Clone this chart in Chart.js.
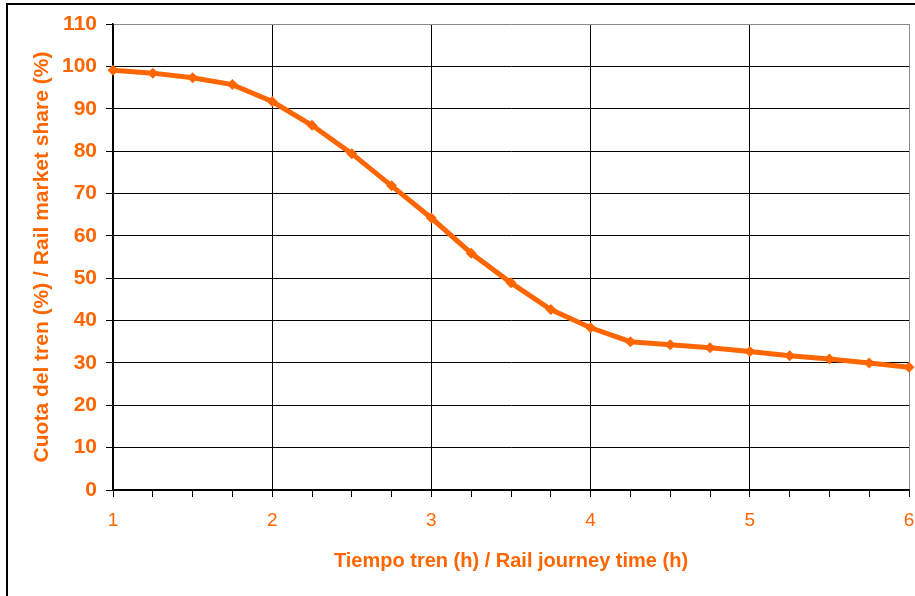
<!DOCTYPE html>
<html lang="es">
<head>
<meta charset="utf-8">
<title>Cuota del tren</title>
<script src="https://cdn.jsdelivr.net/npm/chart.js@4.4.1/dist/chart.umd.min.js"></script>
<style>
  body { margin: 0; background: #fff; }
  #contenedor { position: relative; width: 915px; height: 596px; overflow: hidden; background: #fff; }
  #myChart { position: absolute; left: 0; top: 0; }
  #marco {
    position: absolute; left: 6px; top: 3px; width: 1000px; height: 800px;
    border: 2px solid #000; pointer-events: none;
  }
</style>
</head>
<body>
<div id="contenedor">
  <canvas id="myChart" width="915" height="596"></canvas>
  <div id="marco"></div>
</div>
<script>
// tiempo de viaje en tren (h) y cuota de mercado (%)
const tiempos = [1, 1.25, 1.5, 1.75, 2, 2.25, 2.5, 2.75, 3, 3.25, 3.5, 3.75, 4, 4.25, 4.5, 4.75, 5, 5.25, 5.5, 5.75, 6];
const cuota = [99.1, 98.4, 97.3, 95.7, 91.7, 86.1, 79.4, 71.8, 64.2, 55.9, 48.9, 42.6, 38.3, 35.0, 34.3, 33.6, 32.7, 31.7, 30.9, 30.0, 29.0];
const ticksX = [1, 1.25, 1.5, 1.75, 2, 2.25, 2.5, 2.75, 3, 3.25, 3.5, 3.75, 4, 4.25, 4.5, 4.75, 5, 5.25, 5.5, 5.75, 6];
const ticksY = [0, 10, 20, 30, 40, 50, 60, 70, 80, 90, 100, 110];

const naranja = "#FF6600";
const fuente = "'Liberation Sans', Arial, sans-serif";

const data = {
  datasets: [
    {
      label: "Cuota del tren",
      data: tiempos.map((t, i) => ({ x: t, y: cuota[i] })),
      borderColor: naranja,
      backgroundColor: naranja,
      borderWidth: 5,
      pointStyle: "rectRot",
      pointRadius: 5.5,
      pointBorderWidth: 0,
      tension: 0,
      clip: false,
    },
  ],
};

const config = {
  type: "line",
  data: data,
  options: {
    responsive: false,
    animation: false,
    layout: { padding: { left: 0, top: 24, right: 6, bottom: 0 } },
    plugins: {
      legend: { display: false },
      tooltip: { enabled: false },
    },
    scales: {
      x: {
        type: "linear",
        min: 1,
        max: 6,
        afterBuildTicks: (scale) => {
          scale.ticks = ticksX.map((v) => ({ value: v }));
        },
        afterFit: (scale) => {
          scale.height = 106;
          // sin el margen extra que añade ticks.padding a los lados
          scale.paddingLeft = 0;
          scale.paddingRight = 0;
        },
        ticks: {
          autoSkip: false,
          maxRotation: 0,
          padding: 12,
          color: naranja,
          font: { family: fuente, size: 19 },
          // solo las horas enteras llevan etiqueta
          callback: (v) => (Number.isInteger(v) ? String(v) : ""),
        },
        grid: {
          tickLength: 7,
          lineWidth: 1,
          color: (ctx) => {
            const v = ctx.tick ? ctx.tick.value : 0;
            if (!Number.isInteger(v)) return "rgba(0,0,0,0)";
            return v === 6 ? "#8a8a8a" : "#000";
          },
          tickColor: "#000",
        },
        border: { display: true, color: "#000", width: 1.5 },
        title: {
          display: true,
          text: "Tiempo tren (h) / Rail journey time (h)",
          color: naranja,
          font: { family: fuente, size: 20, weight: "bold" },
          padding: { top: 0, bottom: 23 },
        },
      },
      y: {
        min: 0,
        max: 110,
        afterBuildTicks: (scale) => {
          scale.ticks = ticksY.map((v) => ({ value: v }));
        },
        afterFit: (scale) => {
          scale.width = 113;
        },
        ticks: {
          padding: 9,
          color: naranja,
          font: { family: fuente, size: 21, weight: "bold" },
        },
        grid: {
          tickLength: 7,
          lineWidth: 1,
          color: (ctx) => (ctx.tick && ctx.tick.value === 110 ? "#8a8a8a" : "#000"),
          tickColor: "#000",
        },
        border: { display: true, color: "#000", width: 1.5 },
        title: {
          display: true,
          text: "Cuota del tren (%) / Rail market share (%)",
          color: naranja,
          font: { family: fuente, size: 21, weight: "bold" },
          padding: { top: 30, bottom: 0 },
        },
      },
    },
  },
};

const myChartElement = document.getElementById("myChart");
const myChart = new Chart(myChartElement, config);
</script>
</body>
</html>
